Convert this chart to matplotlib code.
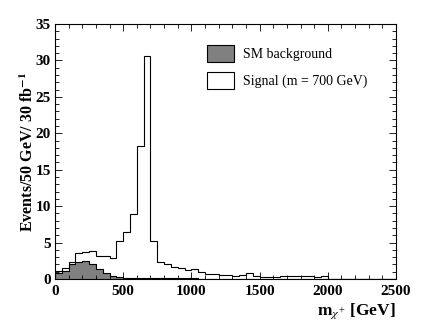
import matplotlib
matplotlib.use('Agg')
import matplotlib.pyplot as plt
import numpy as np
from matplotlib.ticker import MultipleLocator
from matplotlib.patches import Patch

plt.rcParams['font.family'] = 'Liberation Serif'
plt.rcParams['mathtext.fontset'] = 'stix'

# 50 GeV bins from 0 to 2500 GeV
bin_edges = np.arange(0, 2550, 50)

# signal, m = 700 GeV (events / 50 GeV / 30 fb^-1)
signal = [1.1, 1.5, 2.3, 3.6, 3.7, 3.8, 3.1, 3.1, 2.9, 5.2,
          6.5, 8.9, 18.2, 30.6, 5.2, 2.3, 2.0, 1.7, 1.45, 1.2,
          1.4, 0.9, 0.75, 0.75, 0.6, 0.6, 0.45, 0.6, 0.85, 0.45,
          0.3, 0.3, 0.3, 0.35, 0.45, 0.4, 0.4, 0.4, 0.3, 0.35,
          0, 0, 0, 0, 0, 0, 0, 0, 0, 0]

# SM background
background = [0.8, 1.1, 2.1, 2.4, 2.5, 2.1, 1.4, 0.8, 0.4, 0.3,
              0.2, 0.2, 0.15, 0.15, 0.15, 0.1, 0.1, 0.1, 0.1, 0.1,
              0.1, 0.05, 0.05, 0.05, 0, 0, 0.05, 0, 0, 0,
              0, 0, 0, 0, 0, 0, 0, 0, 0, 0,
              0, 0, 0, 0, 0, 0, 0, 0, 0, 0]

fig = plt.figure(figsize=(4.36, 3.28), dpi=100)
ax = fig.add_axes([55/436, 1 - 279/328, 341/436, 255/328])

ax.stairs(signal, bin_edges, color='black', linewidth=0.8)
ax.stairs(background, bin_edges, fill=True, facecolor='#808080',
          edgecolor='black', linewidth=0.8)
ax.stairs(background, bin_edges, color='black', linewidth=0.6)

ax.set_xlim(0, 2500)
ax.set_ylim(0, 35)
ax.xaxis.set_major_locator(MultipleLocator(500))
ax.xaxis.set_minor_locator(MultipleLocator(100))
ax.yaxis.set_major_locator(MultipleLocator(5))
ax.yaxis.set_minor_locator(MultipleLocator(1))
ax.tick_params(which='both', direction='in', top=True, right=True,
               width=0.6, labelsize=11)
ax.tick_params(which='major', length=5)
ax.tick_params(which='minor', length=2.8)
ax.tick_params(axis='x', pad=4)
ax.tick_params(axis='y', pad=3)
for lab in ax.get_xticklabels() + ax.get_yticklabels():
    lab.set_fontweight('bold')
for sp in ax.spines.values():
    sp.set_linewidth(0.8)

ax.set_ylabel(r'Events/50 GeV/ 30 fb$^{\mathbf{-1}}$', fontsize=11.5,
              fontweight='bold', labelpad=-1)
ax.set_xlabel(r'$\mathbf{m}_{\chi^{+}}$ [GeV]', fontsize=12.5,
              fontweight='bold', loc='right', labelpad=3)

handles = [Patch(facecolor='#808080', edgecolor='black', linewidth=0.8),
           Patch(facecolor='white', edgecolor='black', linewidth=0.8)]
ax.legend(handles, ['SM background', 'Signal (m = 700 GeV)'],
          loc='upper left', bbox_to_anchor=(0.41, 0.965), frameon=False,
          fontsize=10, handlelength=1.95, handleheight=1.45,
          labelspacing=0.75, handletextpad=0.65)

fig.savefig('out.png', dpi=100, facecolor='white')
